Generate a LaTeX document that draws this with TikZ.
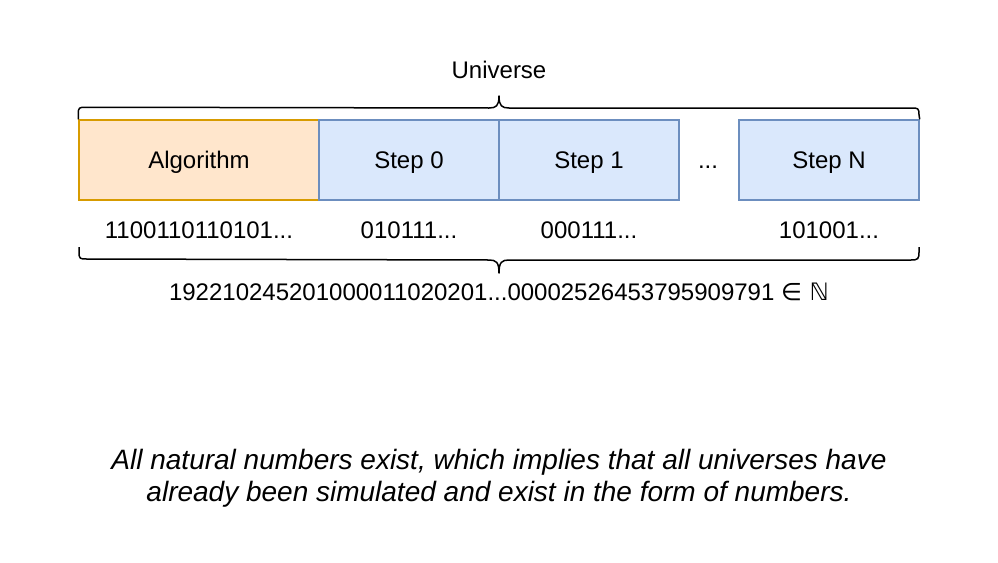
\documentclass[tikz,border=0pt]{standalone}
\usepackage{fontspec}
\setmainfont{Liberation Sans}
\newfontfamily\symfont{DejaVu Sans}
\definecolor{algfill}{HTML}{FFE6CC}
\definecolor{algdraw}{HTML}{D79B00}
\definecolor{stepfill}{HTML}{DAE8FC}
\definecolor{stepdraw}{HTML}{6C8EBF}
\begin{document}
\begin{tikzpicture}[x=1pt,y=-1pt,
  capc/.style={text height=17.2pt, text depth=0pt},
  txt/.style={font=\fontsize{24}{28}\selectfont, inner sep=0pt, anchor=center, capc},
  algbox/.style={draw=algdraw, fill=algfill, line width=1.5pt, minimum height=80pt, inner sep=0pt, font=\fontsize{24}{28}\selectfont, capc},
  stepbox/.style={draw=stepdraw, fill=stepfill, line width=1.5pt, minimum height=80pt, minimum width=180pt, inner sep=0pt, font=\fontsize{24}{28}\selectfont, capc},
  bracel/.style={line width=1.5pt, line join=round}]
\useasboundingbox[fill=white] (0,0) rectangle (998,562);
\node[algbox, minimum width=240pt] (alg) at (199,160) {Algorithm};
\node[stepbox] (s0) at (409,160) {Step 0};
\node[stepbox] (s1) at (589,160) {Step 1};
\node[txt] (dots) at (708,160) {...};
\node[stepbox] (sn) at (829,160) {Step N};
\node[txt] (univ) at (499,70) {Universe};
\node[txt] (b0) at (199,230) {1100110110101...};
\node[txt] (b1) at (409,230) {010111...};
\node[txt] (b2) at (589,230) {000111...};
\node[txt] (bn) at (829,230) {101001...};
\node[txt] (num) at (499,292) {192210245201000011020201...00002526453795909791 {\symfont∈ ℕ}};
\node[font=\fontsize{28}{32}\selectfont\itshape, align=center, inner sep=0pt] (note) at (499,478) {All natural numbers exist, which implies that all universes have\\already been simulated and exist in the form of numbers.};
% top brace
\coordinate (tl) at (alg.north west);
\coordinate (tr) at (sn.north east);
\draw[bracel] (tl) -- ++(0,-5) .. controls +(0,-7) and +(-7,0) .. ++(8,-7) -- (489,108) .. controls (496,108) and (499,106) .. (499,96)
  .. controls (499,106) and (502,108) .. (509,108) -- (911,108) .. controls +(7,0) and +(0,-7) .. (919,115) -- (tr);
% bottom brace
\coordinate (bl) at (79,247);
\coordinate (br) at (919,247);
\draw[bracel] (bl) -- ++(0,5) .. controls +(0,7) and +(-7,0) .. ++(8,7) -- (489,260) .. controls (496,260) and (499,262) .. (499,273)
  .. controls (499,262) and (502,260) .. (509,260) -- (911,260) .. controls +(7,0) and +(0,7) .. (919,252) -- (br);
\end{tikzpicture}
\end{document}
